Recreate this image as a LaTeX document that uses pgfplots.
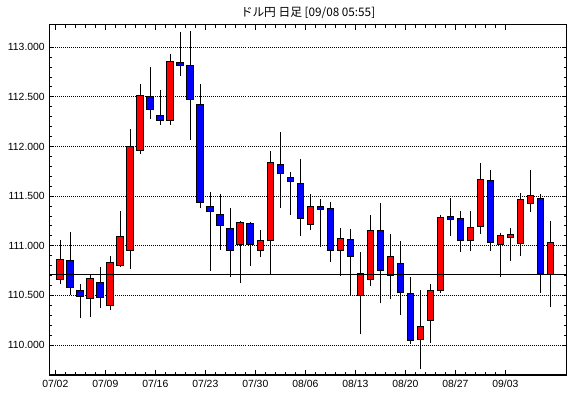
\documentclass[border=0pt]{standalone}
\usepackage{pgfplots}
\pgfplotsset{compat=1.18}
\usepackage{pgfplotstable}
\usepackage{fontspec}
\setmainfont{Liberation Sans}
\newfontfamily\cjk{Noto Sans CJK JP}

\pgfplotstableread{
i o h l c
0 110.66 111.06 110.61 110.86
1 110.85 111.14 110.50 110.58
2 110.55 110.61 110.27 110.49
3 110.47 110.71 110.28 110.67
4 110.63 110.79 110.37 110.48
5 110.40 110.90 110.35 110.83
6 110.80 111.35 110.79 111.09
7 110.95 112.18 110.77 112.00
8 111.96 112.63 111.92 112.51
9 112.50 112.80 112.28 112.37
10 112.31 112.57 112.22 112.26
11 112.26 112.93 112.22 112.86
12 112.85 113.15 112.71 112.82
13 112.82 113.16 112.07 112.47
14 112.42 112.63 111.38 111.44
15 111.40 111.54 110.75 111.35
16 111.32 111.52 110.96 111.20
17 111.17 111.38 110.69 110.95
18 111.01 111.25 110.62 111.23
19 111.22 111.24 110.80 111.01
20 110.95 111.16 110.89 111.05
21 111.05 111.96 110.72 111.84
22 111.82 112.15 111.38 111.73
23 111.69 111.74 111.31 111.65
24 111.63 111.87 111.10 111.27
25 111.21 111.52 111.16 111.40
26 111.40 111.47 110.99 111.37
27 111.38 111.44 110.84 110.95
28 110.95 111.18 110.70 111.07
29 111.06 111.17 110.50 110.89
30 110.50 110.94 110.11 110.72
31 110.66 111.31 110.59 111.15
32 111.15 111.43 110.42 110.75
33 110.70 111.12 110.46 110.89
34 110.82 111.05 110.30 110.53
35 110.52 110.69 110.01 110.05
36 110.06 110.55 109.76 110.19
37 110.25 110.61 110.02 110.55
38 110.55 111.31 110.52 111.28
39 111.30 111.48 111.10 111.26
40 111.27 111.35 110.94 111.05
41 111.05 111.35 110.95 111.18
42 111.19 111.83 111.12 111.67
43 111.66 111.76 110.95 111.03
44 111.01 111.13 110.69 111.10
45 111.08 111.18 110.85 111.11
46 111.02 111.53 110.90 111.47
47 111.43 111.76 111.34 111.51
48 111.48 111.52 110.52 110.72
49 110.71 111.25 110.38 111.03
}\candles

\pgfplotstableread{
x y
-1.08 110.715
50.62 110.715
}\lastline

\pgfplotsset{common/.style={
  scale only axis, width=387.75pt, height=262.7pt,
  xmin=-1.08, xmax=50.62, ymin=109.698, ymax=113.228,
}}

\begin{document}
\begin{tikzpicture}
\begin{axis}[common,
  axis line style={black, line width=0.9pt},
  tick pos=both, xticklabel pos=lower, yticklabel pos=left,
  tick align=inside,
  xtick={-0.5,4.5,9.5,14.5,19.5,24.5,29.5,34.5,39.5,44.5},
  xticklabels={07/02,07/09,07/16,07/23,07/30,08/06,08/13,08/20,08/27,09/03},
  minor x tick num=4,
  ytick={110,110.5,111,111.5,112,112.5,113},
  minor y tick num=4,
  scaled y ticks=false,
  major tick length=3.75pt, minor tick length=2.25pt,
  tick style={black, line width=0.75pt},
  ymajorgrids,
  grid style={black, line width=0.75pt, dash pattern=on 0.75pt off 0.75pt},
  /pgf/number format/assume math mode=true,
  yticklabel style={font=\fontsize{7.8}{9}\selectfont, /pgf/number format/fixed, /pgf/number format/fixed zerofill, /pgf/number format/precision=3},
  xticklabel style={font=\fontsize{7.8}{9}\selectfont},
  title={ドル円 日足 [09/08 05:55]},
  title style={font=\cjk\fontsize{8.8}{10}\selectfont, at={(0.5,1)}, anchor=center, yshift=3pt},
]
\addplot[sharp plot, draw=none, mark=none,
  error bars/.cd, y dir=plus, y explicit, error mark=none,
  error bar style={draw=black, solid, line width=0.75pt}]
  table[x=i, y=l, y error plus expr={\thisrow{h}-\thisrow{l}}] {\candles};
\coordinate (sw) at (rel axis cs:0,0);
\coordinate (ne) at (rel axis cs:1,1);
\end{axis}

\begin{axis}[common, hide axis, ybar stacked, bar width=0.66]
\addplot[draw=none, fill=none] table[x=i, y expr={min(\thisrow{o},\thisrow{c})}] {\candles};
\addplot[fill=red, draw=black, line width=0.75pt] table[x=i, y expr={max(\thisrow{c}-\thisrow{o},0)}] {\candles};
\addplot[fill=blue, draw=black, line width=0.75pt] table[x=i, y expr={max(\thisrow{o}-\thisrow{c},0)}] {\candles};
\end{axis}

\begin{axis}[common, hide axis]
\addplot[black, line width=0.8pt, mark=none] table[x=x, y=y] {\lastline};
\end{axis}

\pgfresetboundingbox
\path[use as bounding box] ([xshift=-37.1pt, yshift=-17.25pt]sw) rectangle ([xshift=2.6pt, yshift=18.5pt]ne);
\end{tikzpicture}
\end{document}
